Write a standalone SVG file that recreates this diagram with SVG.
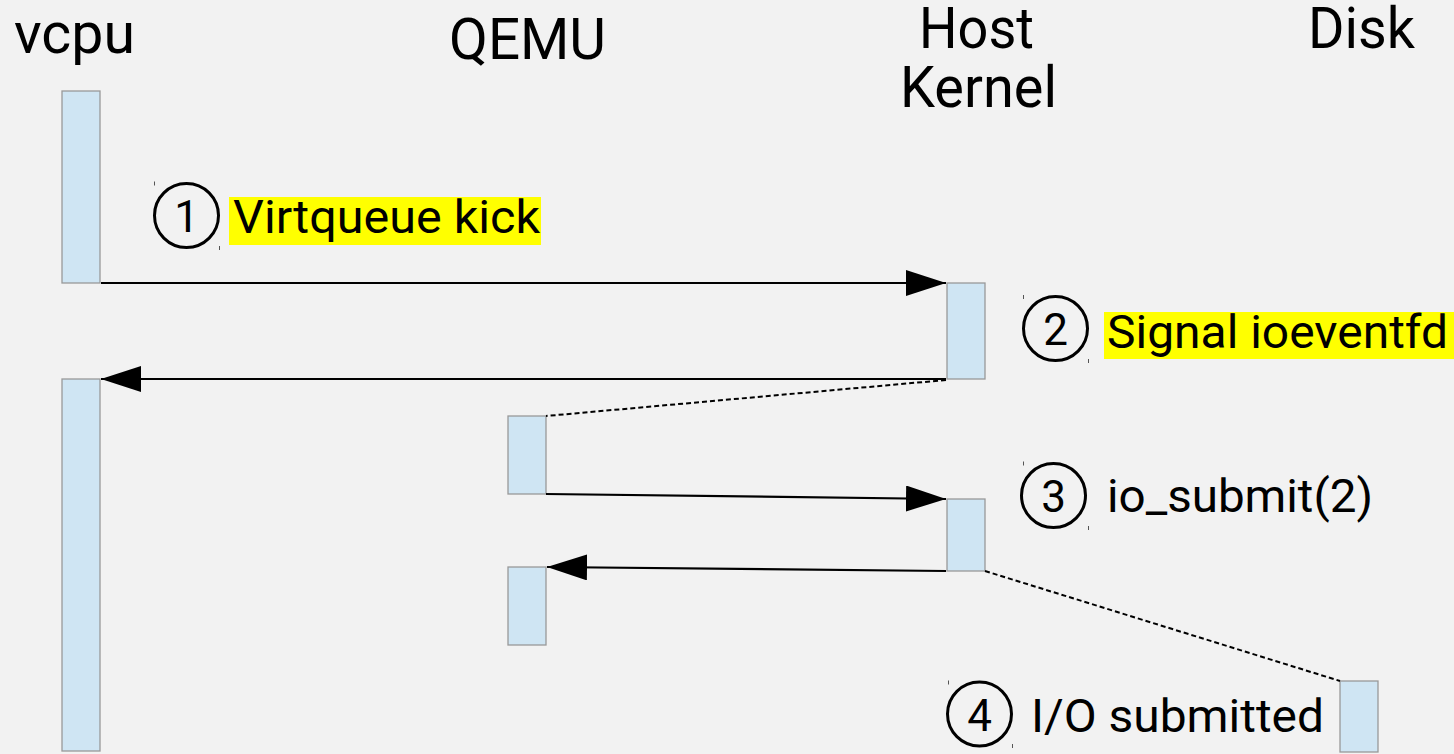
<svg xmlns="http://www.w3.org/2000/svg" width="1454" height="754" viewBox="0 0 1454 754">
<style>
.bg{fill:#f2f2f2}
.act{fill:#cfe5f3;stroke:#999999;stroke-width:1.3}
.title{font-family:Roboto,"Liberation Sans",sans-serif;font-size:58px;fill:#000}
.lbl{font-family:Roboto,"Liberation Sans",sans-serif;font-size:46px;fill:#000}
.num{font-family:Roboto,"Liberation Sans",sans-serif;font-size:44px;fill:#000;text-anchor:middle}
.circ{fill:none;stroke:#000;stroke-width:3}
.hl{fill:#ffff00}
.tick{stroke:#555;stroke-width:1}
.msg{stroke:#000;stroke-width:2.2;fill:none}
.dash{stroke:#000;stroke-width:2;fill:none;stroke-dasharray:5 3}
</style>
<defs>
<marker id="ah" markerUnits="userSpaceOnUse" markerWidth="42" markerHeight="28" refX="40" refY="13" orient="auto">
<path d="M0,0 L40,13 L0,26 z" fill="#000"/>
</marker>
</defs>
<rect class="bg" x="0" y="0" width="1454" height="754"/>

<g id="titles">
<text class="title" x="14" y="53" textLength="121" lengthAdjust="spacingAndGlyphs">vcpu</text>
<text class="title" x="449" y="59" textLength="157" lengthAdjust="spacingAndGlyphs">QEMU</text>
<text class="title" x="919" y="48" textLength="115" lengthAdjust="spacingAndGlyphs">Host</text>
<text class="title" x="900" y="107" textLength="157" lengthAdjust="spacingAndGlyphs">Kernel</text>
<text class="title" x="1308" y="48" textLength="107" lengthAdjust="spacingAndGlyphs">Disk</text>
</g>

<g id="vcpu1"><rect class="act" x="62" y="91" width="38" height="192"/></g>
<g id="vcpu2"><rect class="act" x="62" y="379" width="38" height="372"/></g>
<g id="host1"><rect class="act" x="947" y="283" width="38" height="96"/></g>
<g id="qemu1"><rect class="act" x="508" y="416" width="38" height="78"/></g>
<g id="host2"><rect class="act" x="947" y="499" width="38" height="72"/></g>
<g id="qemu2"><rect class="act" x="508" y="567" width="38" height="78"/></g>
<g id="disk1"><rect class="act" x="1340" y="681" width="38" height="71"/></g>

<g id="connectors">
<line class="msg" x1="101" y1="283" x2="946" y2="283" marker-end="url(#ah)"/>
<line class="msg" x1="946" y1="379" x2="101" y2="379" marker-end="url(#ah)"/>
<line class="msg" x1="546" y1="494" x2="946" y2="499" marker-end="url(#ah)"/>
<line class="msg" x1="946" y1="571" x2="547" y2="567" marker-end="url(#ah)"/>
<line class="dash" x1="946" y1="380" x2="546" y2="416"/>
<line class="dash" x1="985" y1="571" x2="1340" y2="681"/>
</g>

<g id="step1">
<rect class="hl" x="229" y="197" width="312" height="48"/>
<circle class="circ" cx="186.5" cy="215.5" r="32"/>
<text class="num" x="186.5" y="232">1</text>
<line class="tick" x1="154.5" y1="181.5" x2="154.5" y2="185.5"/>
<line class="tick" x1="219.5" y1="246" x2="219.5" y2="250"/>
<text class="lbl" x="233" y="233" textLength="307" lengthAdjust="spacingAndGlyphs">Virtqueue kick</text>
</g>

<g id="step2">
<rect class="hl" x="1104" y="312" width="350" height="47"/>
<circle class="circ" cx="1055.5" cy="328.5" r="32"/>
<text class="num" x="1055.5" y="345">2</text>
<line class="tick" x1="1023.5" y1="295" x2="1023.5" y2="299"/>
<line class="tick" x1="1088.5" y1="359" x2="1088.5" y2="363"/>
<text class="lbl" x="1107" y="348" textLength="341" lengthAdjust="spacingAndGlyphs">Signal ioeventfd</text>
</g>

<g id="step3">
<circle class="circ" cx="1053.5" cy="495.5" r="32"/>
<text class="num" x="1053.5" y="512">3</text>
<line class="tick" x1="1023.5" y1="461.5" x2="1023.5" y2="465.5"/>
<line class="tick" x1="1088.5" y1="526" x2="1088.5" y2="530"/>
<text class="lbl" x="1107" y="512" textLength="266" lengthAdjust="spacingAndGlyphs">io_submit(2)</text>
</g>

<g id="step4">
<circle class="circ" cx="979.5" cy="714" r="32"/>
<text class="num" x="979.5" y="730.5">4</text>
<line class="tick" x1="948.5" y1="680.5" x2="948.5" y2="684.5"/>
<line class="tick" x1="1012.5" y1="744" x2="1012.5" y2="748"/>
<text class="lbl" x="1031" y="732" textLength="293" lengthAdjust="spacingAndGlyphs">I/O submitted</text>
</g>
</svg>
